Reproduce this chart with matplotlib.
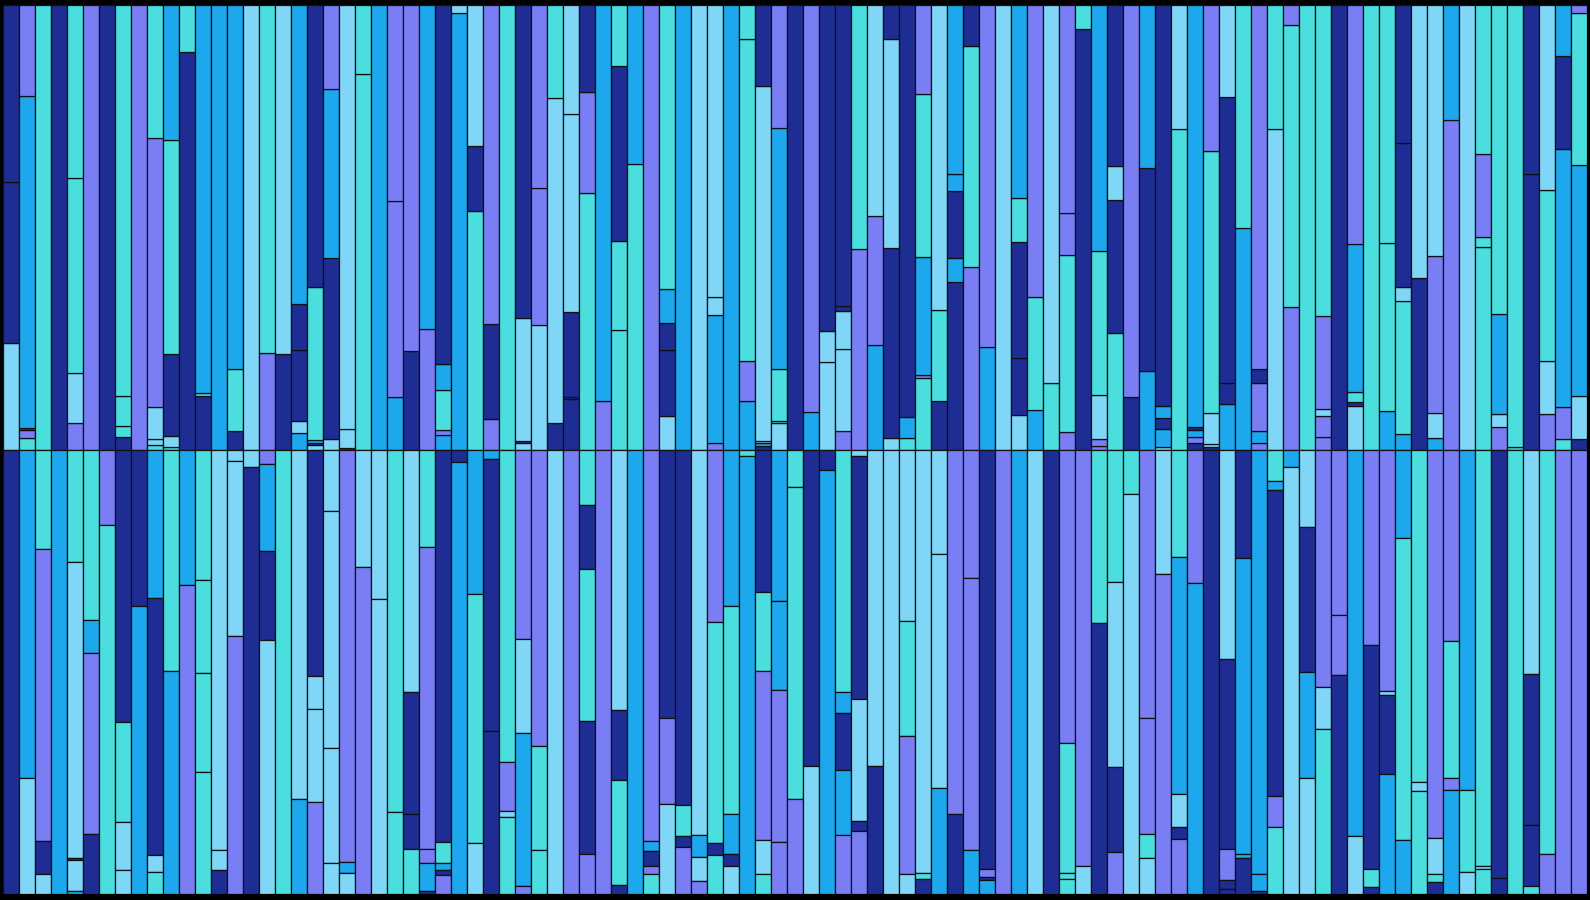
import numpy as np
import matplotlib.pyplot as plt

# colour codes: N navy, P periwinkle, L light sky, T turquoise, B bright blue
palette = {'N': '#1e2d94', 'P': '#7a7ef5', 'L': '#7fd6f7', 'T': '#4adede', 'B': '#1da7ec'}

# upper half, segments listed from the middle line upward (percent of the bar)
top_colors = [
    "LNN", "TPNBP", "T", "N", "PLTT", "P", "N", "NTTT", "P", "TLLPT",
    "TLNTB", "NT", "NTB", "B", "NTB", "L", "PT", "NL", "BLNNB", "LNBTN",
    "LNBP", "NLL", "TT", "B", "BPP", "NP", "PB", "BPTBN", "BL", "TNL",
    "PNP", "T", "LNLN", "LPP", "NLT", "NNNLL", "TPN", "PB", "TTNT", "TB",
    "P", "LNNBT", "B", "L", "PBLL", "B", "BPTT", "NBLLN", "LTTBP", "N",
    "BP", "LLN", "PLLNN", "PT", "BPL", "LNLN", "TBN", "TPBTP", "NTL", "NBNBB",
    "PTN", "BP", "L", "LNNTB", "BTP", "TL", "PTPP", "NT", "PPLTB", "TNLN",
    "NP", "BNB", "LBNBN", "TL", "NPBNB", "NLLTP", "BNNL", "BT", "PBPNP", "LT",
    "PTP", "T", "PPLPT", "N", "LNTBP", "T", "BTT", "BTLNN", "NL", "BLPL",
    "PB", "L", "TTPT", "PLBT", "TT", "NN", "PLTL", "TPBNB", "NLBTP",
]
top_shares = [
    [24.0, 36.2, 39.8], [2.5, 1.9, 0.4, 74.9, 20.4], [100], [100], [5.9, 11.4, 43.9, 38.9],
    [100], [100], [2.9, 2.3, 6.8, 88.0], [100], [1.0, 1.3, 7.2, 60.5, 30.0],
    [0.6, 2.5, 18.3, 48.2, 30.5], [89.5, 10.5], [12.1, 0.5, 87.4], [100], [4.2, 13.8, 82.0],
    [100], [21.8, 78.2], [21.4, 78.6], [3.8, 2.7, 15.8, 10.4, 67.4], [1.0, 0.5, 0.6, 34.4, 63.5],
    [2.4, 40.7, 37.9, 19.0], [0.4, 4.3, 95.3], [84.4, 15.6], [100], [11.9, 44.1, 44.0],
    [22.2, 77.8], [27.0, 73.0], [3.2, 1.1, 9.1, 5.9, 80.9], [98.1, 1.9], [53.7, 14.6, 31.7],
    [6.8, 21.4, 71.8], [100], [1.4, 0.6, 27.5, 70.5], [28.1, 30.8, 41.1], [5.9, 73.3, 20.9],
    [11.4, 0.5, 19.1, 44.6, 24.5], [57.8, 22.7, 19.5], [11.0, 89.0], [26.9, 20.1, 39.4, 13.7], [64.3, 35.7],
    [100], [7.5, 14.9, 6.1, 7.7, 63.8], [100], [100], [1.5, 28.8, 4.1, 65.6],
    [100], [11.0, 8.9, 72.5, 7.6], [0.8, 0.6, 0.4, 80.0, 18.2], [6.0, 0.5, 11.7, 54.2, 27.6], [100],
    [8.5, 91.5], [19.7, 6.9, 73.4], [4.2, 18.4, 8.6, 1.1, 67.7], [45.2, 54.8], [23.5, 29.1, 47.4],
    [2.6, 42.8, 47.0, 7.7], [2.6, 4.7, 92.7], [16.1, 0.7, 26.6, 36.7, 20.0], [11.0, 20.4, 68.6], [37.7, 5.5, 15.1, 3.8, 38.0],
    [41.1, 49.7, 9.2], [23.0, 77.0], [100], [7.7, 12.9, 26.1, 9.9, 43.4], [8.9, 25.4, 65.6],
    [15.0, 85.0], [4.0, 39.8, 9.5, 46.7], [94.6, 5.4], [0.9, 1.4, 10.0, 32.3, 55.5], [26.3, 29.9, 7.7, 36.2],
    [11.7, 88.3], [17.7, 45.7, 36.6], [0.6, 4.1, 2.3, 2.9, 90.2], [72.2, 27.8], [1.4, 1.4, 1.5, 0.8, 95.0],
    [0.6, 0.6, 7.1, 59.0, 32.8], [10.3, 4.7, 64.4, 20.6], [49.9, 50.1], [1.5, 2.7, 10.8, 3.0, 82.0], [72.0, 28.0],
    [32.1, 63.5, 4.4], [100], [2.9, 4.7, 1.6, 20.9, 69.9], [100], [9.8, 0.9, 2.3, 33.3, 53.7],
    [100], [8.7, 37.8, 53.5], [3.5, 30.0, 3.0, 32.6, 31.0], [38.6, 61.4], [2.6, 5.6, 35.3, 56.4],
    [74.2, 25.8], [100], [45.6, 2.3, 18.7, 33.5], [5.1, 2.9, 22.4, 69.6], [0.6, 99.4],
    [62.0, 38.0], [8.0, 11.9, 38.5, 41.6], [2.4, 7.2, 57.9, 21.1, 11.4], [2.3, 9.8, 52.1, 34.1, 1.9],
]

# lower half, segments listed from the middle line downward
bottom_colors = [
    "N", "BL", "TPNL", "B", "TLNLB", "TBPN", "PT", "NTLL", "NB", "BNLT",
    "TB", "BP", "TTTT", "LLN", "LLP", "LN", "PBNL", "T", "LB", "NLLP",
    "LLLL", "PBL", "LP", "LL", "TT", "LNNT", "TPPBN", "NTBNP", "NB", "BTL",
    "BNN", "TPLT", "PLBP", "PTT", "L", "P", "TNTNP", "P", "LNTN", "B",
    "PBNPT", "NPL", "NTNP", "LBLP", "PTNT", "BTBNL", "TB", "NTPLT", "BBPP", "TTP",
    "NL", "NB", "TBNBP", "LNLNP", "LN", "L", "LTPL", "LTN", "LLB", "PN",
    "PPB", "NPNB", "P", "B", "L", "N", "PTTT", "PL", "TN", "TLNP",
    "TL", "PPTL", "LP", "TBLNP", "PB", "N", "LNPNN", "NBBN", "BBN", "TBNPT",
    "BL", "LNBL", "PLT", "PPN", "BL", "PNTN", "PLNB", "BTB", "TLT", "PLTN",
    "PTPB", "BTL", "TLT", "NN", "T", "LNNT", "TP", "P", "P",
]
bottom_shares = [
    [100], [73.9, 26.1], [22.3, 65.7, 7.4, 4.6], [100], [25.4, 66.6, 0.4, 7.0, 0.6],
    [38.4, 7.3, 40.7, 13.6], [17.0, 83.0], [61.2, 22.5, 11.0, 5.3], [35.1, 64.9], [33.5, 57.8, 3.8, 4.9],
    [49.9, 50.1], [30.4, 69.6], [29.5, 20.9, 22.3, 27.4], [90.0, 4.7, 5.3], [2.5, 39.4, 58.2],
    [4.0, 96.0], [3.2, 19.7, 20.0, 57.0], [100], [78.6, 21.4], [51.0, 7.3, 20.9, 20.8],
    [13.9, 53.3, 25.8, 7.0], [92.7, 2.5, 4.7], [26.5, 73.5], [33.7, 66.3], [81.6, 18.4],
    [54.4, 27.5, 7.9, 10.1], [22.0, 67.8, 3.1, 6.2, 0.7], [88.3, 4.7, 1.7, 1.0, 4.3], [2.8, 97.2], [32.5, 56.0, 11.5],
    [2.2, 61.1, 36.7], [70.3, 10.9, 1.4, 17.3], [42.7, 21.1, 34.3, 1.9], [66.8, 23.4, 9.8], [100],
    [100], [12.4, 14.5, 34.1, 30.1, 8.9], [100], [58.5, 15.9, 23.5, 2.1], [100],
    [88.0, 2.4, 3.4, 1.6, 4.6], [60.4, 19.3, 20.2], [80.0, 7.0, 2.5, 10.5], [86.7, 4.8, 5.5, 2.9], [38.9, 49.6, 2.8, 8.7],
    [35.1, 46.8, 9.1, 2.8, 6.2], [1.5, 98.5], [32.1, 17.8, 37.9, 7.8, 4.4], [34.1, 20.1, 34.0, 11.8], [8.5, 70.2, 21.3],
    [71.1, 28.9], [4.5, 95.5], [54.4, 4.9, 12.8, 14.6, 13.2], [1.4, 54.6, 27.6, 2.2, 14.1], [71.1, 28.9],
    [100], [38.5, 25.9, 31.0, 4.6], [95.4, 1.3, 3.4], [23.6, 52.6, 23.8], [81.9, 18.1],
    [29.0, 61.0, 10.0], [94.2, 1.9, 0.6, 3.2], [100], [100], [100],
    [100], [66.1, 29.2, 1.3, 3.4], [93.8, 6.2], [39.1, 60.9], [29.7, 41.8, 19.1, 9.4],
    [10.1, 89.9], [60.3, 26.2, 5.2, 8.2], [28.0, 72.0], [24.1, 53.3, 7.6, 2.7, 12.3], [30.1, 69.9],
    [100], [47.2, 42.7, 7.0, 2.0, 1.1], [24.3, 66.7, 0.9, 8.1], [95.5, 3.9, 0.6], [7.2, 1.9, 69.0, 7.0, 15.0],
    [4.0, 96.0], [17.5, 32.5, 24.0, 26.0], [53.5, 9.3, 37.2], [37.3, 13.5, 49.2], [87.0, 13.0],
    [43.9, 50.4, 4.2, 1.5], [54.3, 1.0, 17.6, 27.1], [20.0, 67.9, 12.1], [74.7, 2.2, 23.1], [87.5, 7.9, 2.0, 2.6],
    [43.0, 30.8, 2.7, 23.5], [76.7, 18.4, 4.9], [93.8, 0.6, 5.6], [96.3, 3.7], [100],
    [50.4, 34.0, 13.6, 1.9], [90.9, 9.1], [100], [100],
]

fig = plt.figure(figsize=(15.9, 9), dpi=100, facecolor='black')
ax = fig.add_axes([3 / 1590, 6 / 900, 1584 / 1590, 889 / 900])
ax.set_facecolor('black')


def draw_half(colors, shares, sign):
    for i, (cs, vals) in enumerate(zip(colors, shares)):
        vals = np.array(vals, dtype=float)
        vals = vals / vals.sum()
        base = 0.0
        for c, v in zip(cs, vals):
            ax.bar(i, sign * v, bottom=sign * base, width=1.0,
                   color=palette[c], edgecolor='#111111', linewidth=0.9)
            base += v


draw_half(top_colors, top_shares, 1)
draw_half(bottom_colors, bottom_shares, -1)

ax.set_xlim(-0.5, len(top_colors) - 0.5)
ax.set_ylim(-1, 1)
ax.axis('off')

fig.savefig('out.png', dpi=100, facecolor='black')
